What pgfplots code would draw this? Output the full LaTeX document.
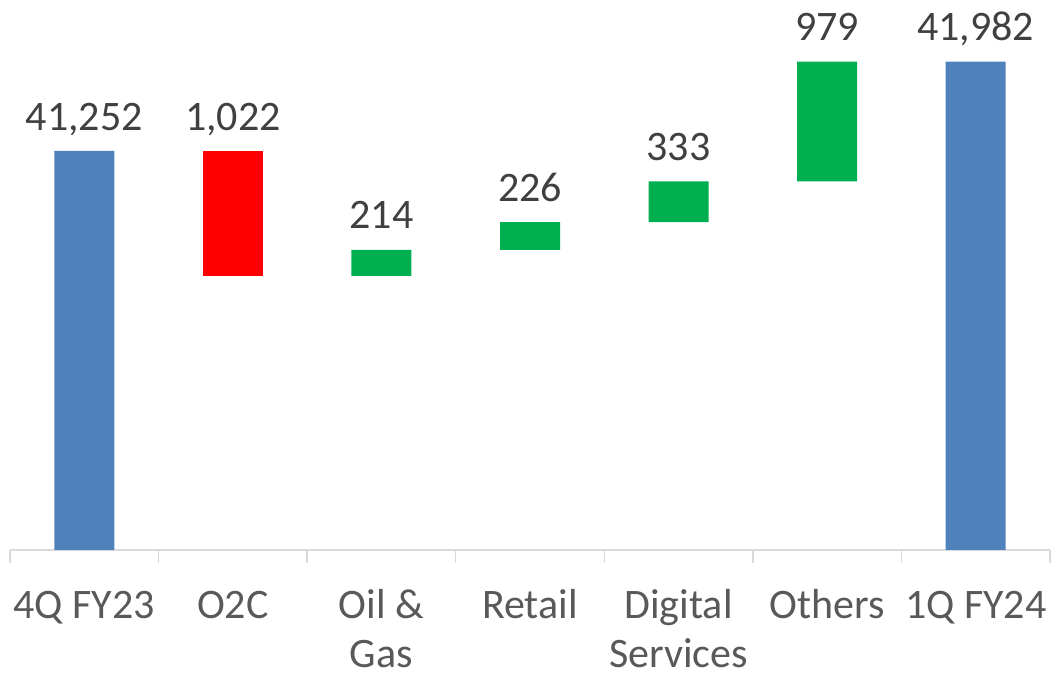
\documentclass[border=0pt]{standalone}
\usepackage{pgfplots}
\pgfplotsset{compat=1.18}
\usepackage{fontspec}
\setmainfont{Carlito}
\definecolor{wfblue}{HTML}{4F81BD}
\definecolor{wfred}{HTML}{FF0000}
\definecolor{wfgreen}{HTML}{00B050}
\definecolor{axgray}{HTML}{D9D9D9}
\definecolor{lblgray}{HTML}{404040}
\definecolor{tickgray}{HTML}{595959}
\begin{document}
\begin{tikzpicture}
\pgfplotsset{wf/.style={scale only axis, width=520pt, height=275pt,
  xmin=-0.5, xmax=6.5, ymin=37990, ymax=42487}}
\begin{axis}[wf, name=ax, ybar stacked, bar width=30pt,
  axis x line*=bottom, axis y line=none,
  x axis line style={-, axgray, line width=0.75pt},
  xtick={0,...,6},
  xticklabels={4Q FY23, O2C, Oil \&\\Gas, Retail, Digital\\Services, Others, 1Q FY24},
  major tick length=0pt,
  minor xtick={-0.5,0.5,...,6.5}, minor tick length=6.5pt, xtick align=outside,
  minor tick style={axgray, line width=0.75pt},
  typeset ticklabels with strut,
  xticklabel style={align=center, font=\fontsize{21}{24.5}\selectfont, text=tickgray, anchor=north, yshift=-13.5pt},
  ]
\addplot[draw=none, fill=none] coordinates {(0,0) (1,40230) (2,40230) (3,40444) (4,40670) (5,41003) (6,0)};
\addplot[draw=none, fill=wfblue] coordinates {(0,41252) (1,0) (2,0) (3,0) (4,0) (5,0) (6,41982)};
\addplot[draw=none, fill=wfred] coordinates {(0,0) (1,1022) (2,0) (3,0) (4,0) (5,0) (6,0)};
\addplot[draw=none, fill=wfgreen] coordinates {(0,0) (1,0) (2,214) (3,226) (4,333) (5,979) (6,0)};
\end{axis}
\begin{axis}[wf, hide axis, clip=false]
\addplot[draw=none, nodes near coords, point meta=explicit symbolic,
  every node near coord/.append style={anchor=base, yshift=10.5pt, font=\fontsize{21}{24.5}\selectfont, text=lblgray}]
  coordinates {(0,41252)[41,252] (1,41252)[1,022] (2,40444)[214] (3,40670)[226] (4,41003)[333] (5,41982)[979] (6,41982)[41,982]};
\end{axis}
\path (ax.south west) ++(-5pt,-63pt) coordinate (bl);
\path (ax.north east) ++(3pt,0pt) coordinate (tr);
\pgfresetboundingbox
\path[use as bounding box] (bl) rectangle (tr);
\end{tikzpicture}
\end{document}
